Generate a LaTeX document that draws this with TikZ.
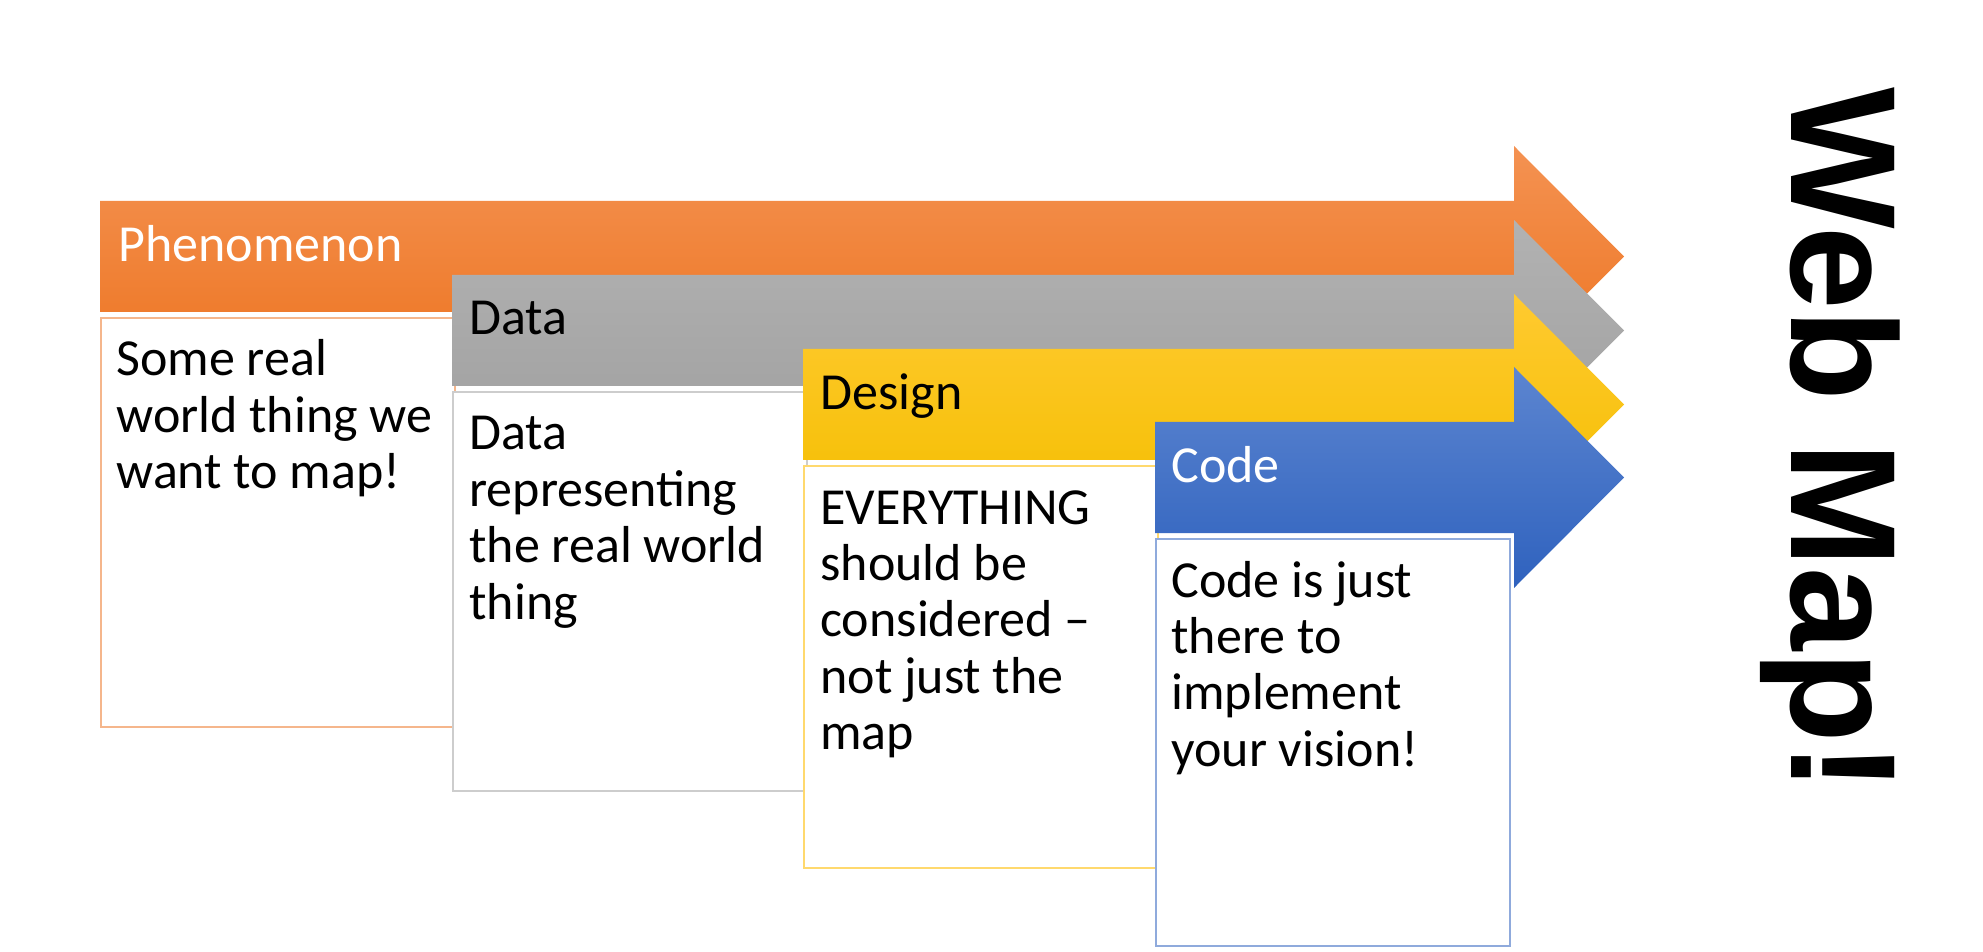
\documentclass[tikz,border=0pt]{standalone}
\usepackage{fontspec}
\setmainfont{Carlito}
\newfontfamily\bannerfont{Liberation Sans}
\usetikzlibrary{positioning}

\definecolor{phenTop}{RGB}{244,146,82}
\definecolor{phenBot}{RGB}{237,117,34}
\definecolor{phenLine}{RGB}{245,182,140}
\definecolor{dataTop}{RGB}{178,178,178}
\definecolor{dataBot}{RGB}{160,160,160}
\definecolor{dataLine}{RGB}{205,205,205}
\definecolor{designTop}{RGB}{255,202,48}
\definecolor{designBot}{RGB}{244,190,0}
\definecolor{designLine}{RGB}{255,217,110}
\definecolor{codeTop}{RGB}{92,133,208}
\definecolor{codeBot}{RGB}{47,98,190}
\definecolor{codeLine}{RGB}{143,170,220}

\begin{document}
\begin{tikzpicture}[x=0.5pt,y=-0.5pt,
    infobox/.style={rectangle, fill=white, line width=1pt, anchor=north west,
                    inner sep=0pt, minimum width=177pt},
    bartext/.style={anchor=base west, inner sep=0pt, font=\fontsize{26}{28}\selectfont},
    boxtext/.style={anchor=base west, inner sep=0pt, font=\fontsize{26}{28.2}\selectfont}]

    \useasboundingbox (0,0) rectangle (1983,952);

    %define the arrows and the boxes under them
    \foreach \x/\y/\c/\h in {100/201/phen/204.5, 452/275/data/199.5,
                             803/349/design/201, 1155/422/code/203.5}{
        \shade[top color=\c Top, bottom color=\c Bot]
            (\x,\y) -- (1514,\y) -- (1514,\y-55) -- (1624,\y+55.5)
            -- (1514,\y+166) -- (1514,\y+111) -- (\x,\y+111) -- cycle;
        \node[infobox, draw=\c Line, minimum height=\h pt] (\c box) at (\x,\y+116) {};
    }

    % define the titles on the arrows
    \node[bartext, text=white] (phentitle)   at (118,262) {Phenomenon};
    \node[bartext]             (datatitle)   at (469,335) {Data};
    \node[bartext]             (designtitle) at (820,409) {Design};
    \node[bartext, text=white] (codetitle)   at (1171,482) {Code};

    % define the texts in the boxes
    \node[boxtext] (phentext) at ([shift={(16,59)}]phenbox.north west)
        {\parbox[t]{170pt}{Some real\\world thing we\\want to map!}};
    \node[boxtext] (datatext) at ([shift={(17,59)}]databox.north west)
        {\parbox[t]{170pt}{Data\\representing\\the real world\\thing}};
    \node[boxtext] (designtext) at ([shift={(17,59)}]designbox.north west)
        {\parbox[t]{170pt}{EVERYTHING\\should be\\considered –\\not just the\\map}};
    \node[boxtext] (codetext) at ([shift={(16,59)}]codebox.north west)
        {\parbox[t]{170pt}{Code is just\\there to\\implement\\your vision!}};

    % the banner on the right
    \node[anchor=base, rotate=-90, inner sep=0pt,
          font=\bannerfont\bfseries\fontsize{75}{80}\selectfont] (banner) at (1791,440)
        {Web Map!};
\end{tikzpicture}
\end{document}
